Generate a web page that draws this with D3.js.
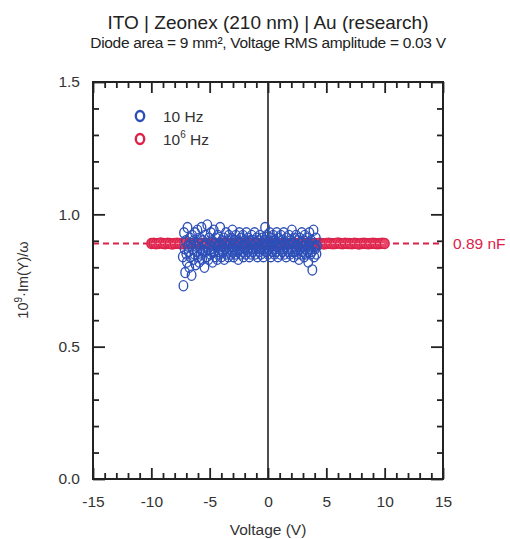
<!DOCTYPE html>
<html><head><meta charset="utf-8">
<script src="https://cdn.jsdelivr.net/npm/d3@7"></script>
<style>body{margin:0;background:#fff}svg{display:block}text{font-family:"Liberation Sans",Arial,sans-serif}</style>
</head><body>
<script>
// ---- data ----
const xMajorTicks = [-15,-10,-5,0,5,10,15];
const xMinorTicks = [-14,-13,-12,-11,-9,-8,-7,-6,-4,-3,-2,-1,1,2,3,4,6,7,8,9,11,12,13,14];
const yMajorTicks = [0,0.5,1.0,1.5];
const yMinorTicks = [0.1,0.2,0.3,0.4,0.6,0.7,0.8,0.9,1.1,1.2,1.3,1.4];
const fitValue = 0.89;
const fitLabel = "0.89 nF";
const seriesNames = ["10 Hz","10⁶ Hz"];

// 10 Hz series (voltage V, capacitance 10^9 Im(Y)/ω)
const lowV = [-7.3,-7.25,-7.2,-7.15,-7.1,-7.05,-7,-6.95,-6.9,-6.85,
-6.8,-6.75,-6.7,-6.65,-6.6,-6.55,-6.5,-6.45,-6.4,-6.35,
-6.3,-6.25,-6.2,-6.15,-6.1,-6.05,-6,-5.95,-5.9,-5.85,
-5.8,-5.75,-5.7,-5.65,-5.6,-5.55,-5.5,-5.45,-5.4,-5.35,
-5.3,-5.25,-5.2,-5.15,-5.1,-5.05,-5,-4.95,-4.9,-4.85,
-4.8,-4.75,-4.7,-4.65,-4.6,-4.55,-4.5,-4.45,-4.4,-4.35,
-4.3,-4.25,-4.2,-4.15,-4.1,-4.05,-4,-3.95,-3.9,-3.85,
-3.8,-3.75,-3.7,-3.65,-3.6,-3.55,-3.5,-3.45,-3.4,-3.35,
-3.3,-3.25,-3.2,-3.15,-3.1,-3.05,-3,-2.95,-2.9,-2.85,
-2.8,-2.75,-2.7,-2.65,-2.6,-2.55,-2.5,-2.45,-2.4,-2.35,
-2.3,-2.25,-2.2,-2.15,-2.1,-2.05,-2,-1.95,-1.9,-1.85,
-1.8,-1.75,-1.7,-1.65,-1.6,-1.55,-1.5,-1.45,-1.4,-1.35,
-1.3,-1.25,-1.2,-1.15,-1.1,-1.05,-1,-0.95,-0.9,-0.85,
-0.8,-0.75,-0.7,-0.65,-0.6,-0.55,-0.5,-0.45,-0.4,-0.35,
-0.3,-0.25,-0.2,-0.15,-0.1,-0.05,0,0.05,0.1,0.15,
0.2,0.25,0.3,0.35,0.4,0.45,0.5,0.55,0.6,0.65,
0.7,0.75,0.8,0.85,0.9,0.95,1,1.05,1.1,1.15,
1.2,1.25,1.3,1.35,1.4,1.45,1.5,1.55,1.6,1.65,
1.7,1.75,1.8,1.85,1.9,1.95,2,2.05,2.1,2.15,
2.2,2.25,2.3,2.35,2.4,2.45,2.5,2.55,2.6,2.65,
2.7,2.75,2.8,2.85,2.9,2.95,3,3.05,3.1,3.15,
3.2,3.25,3.3,3.35,3.4,3.45,3.5,3.55,3.6,3.65,
3.7,3.75,3.8,3.85,3.9,3.95,4,4.05,4.1,4.15,4.2];
const lowC = [0.84,0.73,0.93,0.87,0.78,0.90,0.85,0.82,0.95,0.88,
0.86,0.80,0.91,0.84,0.89,0.77,0.92,0.87,0.83,0.90,
0.85,0.93,0.81,0.88,0.86,0.94,0.84,0.89,0.82,0.91,
0.87,0.85,0.95,0.83,0.90,0.86,0.88,0.80,0.92,0.86,
0.89,0.84,0.96,0.87,0.83,0.91,0.88,0.85,0.93,0.86,
0.90,0.82,0.87,0.94,0.86,0.89,0.84,0.91,0.88,0.83,
0.92,0.86,0.89,0.85,0.95,0.87,0.84,0.90,0.88,0.86,
0.91,0.83,0.89,0.87,0.93,0.85,0.88,0.90,0.84,0.92,
0.87,0.89,0.85,0.91,0.86,0.94,0.88,0.84,0.90,0.87,
0.85,0.92,0.88,0.86,0.90,0.83,0.89,0.93,0.87,0.85,
0.91,0.88,0.86,0.92,0.84,0.89,0.87,0.90,0.85,0.93,
0.88,0.86,0.91,0.87,0.84,0.90,0.89,0.85,0.92,0.87,
0.86,0.90,0.88,0.93,0.85,0.89,0.87,0.91,0.84,0.88,
0.90,0.86,0.92,0.87,0.85,0.89,0.91,0.88,0.84,0.90,
0.87,0.95,0.89,0.86,0.92,0.88,0.85,0.90,0.87,0.93,
0.88,0.84,0.91,0.86,0.89,0.92,0.87,0.85,0.90,0.88,
0.86,0.93,0.88,0.84,0.91,0.87,0.89,0.85,0.92,0.88,
0.90,0.86,0.87,0.93,0.85,0.89,0.88,0.84,0.91,0.87,
0.89,0.86,0.92,0.88,0.85,0.90,0.87,0.94,0.86,0.89,
0.84,0.91,0.88,0.86,0.92,0.87,0.85,0.90,0.88,0.83,
0.91,0.87,0.89,0.85,0.93,0.86,0.88,0.90,0.84,0.92,
0.87,0.85,0.89,0.91,0.86,0.82,0.88,0.93,0.87,0.85,
0.90,0.86,0.79,0.89,0.94,0.84,0.88,0.87,0.91,0.85,0.88];

// 10^6 Hz series
const highV = [-10,-9.8,-9.6,-9.4,-9.2,-9,-8.8,-8.6,-8.4,-8.2,
-8,-7.8,-7.6,-7.4,-7.2,-7,-6.8,-6.6,-6.4,-6.2,
-6,-5.8,-5.6,-5.4,-5.2,-5,-4.8,-4.6,-4.4,-4.2,
-4,-3.8,-3.6,-3.4,-3.2,-3,-2.8,-2.6,-2.4,-2.2,
-2,-1.8,-1.6,-1.4,-1.2,-1,-0.8,-0.6,-0.4,-0.2,
0,0.2,0.4,0.6,0.8,1,1.2,1.4,1.6,1.8,
2,2.2,2.4,2.6,2.8,3,3.2,3.4,3.6,3.8,
4,4.2,4.4,4.6,4.8,5,5.2,5.4,5.6,5.8,
6,6.2,6.4,6.6,6.8,7,7.2,7.4,7.6,7.8,
8,8.2,8.4,8.6,8.8,9,9.2,9.4,9.6,9.8,10];
const highC = [0.890,0.891,0.889,0.890,0.892,0.890,0.889,0.891,0.890,0.888,
0.890,0.891,0.890,0.889,0.890,0.892,0.890,0.889,0.890,0.891,
0.890,0.888,0.890,0.891,0.890,0.889,0.890,0.892,0.890,0.889,
0.891,0.890,0.889,0.890,0.891,0.890,0.888,0.890,0.891,0.890,
0.889,0.890,0.892,0.890,0.889,0.891,0.890,0.890,0.889,0.891,
0.890,0.889,0.890,0.891,0.890,0.888,0.890,0.891,0.890,0.889,
0.890,0.892,0.890,0.889,0.890,0.891,0.890,0.889,0.891,0.890,
0.890,0.889,0.891,0.890,0.888,0.890,0.891,0.890,0.889,0.890,
0.892,0.890,0.889,0.891,0.890,0.890,0.889,0.891,0.890,0.888,
0.890,0.891,0.890,0.889,0.890,0.891,0.890,0.889,0.890,0.891,0.890];

// ---- chart ----
const W = 510, H = 539;
const blue = "#2d4fb8", red = "#dc2149", ink = "#222";
const svg = d3.select("body").append("svg").attr("width", W).attr("height", H);
const x = d3.scaleLinear().domain([-15,15]).range([93,443]);
const y = d3.scaleLinear().domain([0,1.5]).range([479,82]);

svg.append("text").attr("x",268).attr("y",29).attr("text-anchor","middle")
  .attr("font-size",19).attr("fill",ink).text("ITO | Zeonex (210 nm) | Au (research)");
svg.append("text").attr("x",268).attr("y",48).attr("text-anchor","middle")
  .attr("font-size",15.5).attr("fill",ink).attr("letter-spacing",-0.3)
  .text("Diode area = 9 mm², Voltage RMS amplitude = 0.03 V");

// data
svg.append("clipPath").attr("id","c").append("rect")
  .attr("x",x(-15)).attr("y",y(1.5)).attr("width",x(15)-x(-15)).attr("height",y(0)-y(1.5));
const plot = svg.append("g").attr("clip-path","url(#c)");

plot.append("line").attr("x1",x(0)).attr("x2",x(0)).attr("y1",y(0)).attr("y2",y(1.5))
  .attr("stroke",ink).attr("stroke-width",1.6);

plot.append("line").attr("x1",x(-15)).attr("x2",x(15)).attr("y1",y(fitValue)).attr("y2",y(fitValue))
  .attr("stroke",red).attr("stroke-width",2).attr("stroke-dasharray","6,4");

const high = highV.map((v,i)=>({v, c: highC[i]}));
plot.append("g").selectAll("ellipse").data(high).join("ellipse")
  .attr("cx",d=>x(d.v)).attr("cy",d=>y(d.c)).attr("rx",4.5).attr("ry",5)
  .attr("fill","#e9466a").attr("stroke",red).attr("stroke-width",1.4);
plot.append("line").attr("x1",x(highV[0])).attr("x2",x(highV[highV.length-1]))
  .attr("y1",y(fitValue)).attr("y2",y(fitValue))
  .attr("stroke","#f7b5c4").attr("stroke-width",1).attr("stroke-dasharray","3,2").attr("opacity",0.8);

const low = lowV.map((v,i)=>({v, c: lowC[i]}));
plot.append("g").selectAll("ellipse").data(low).join("ellipse")
  .attr("cx",d=>x(d.v)).attr("cy",d=>y(d.c)).attr("rx",4.3).attr("ry",5.1)
  .attr("fill","none").attr("stroke",blue).attr("stroke-width",1.35);

// axes
function styleAxis(g){ g.select(".domain").remove(); g.selectAll("line").attr("stroke",ink).attr("stroke-width",1.8);
  g.selectAll("text").attr("font-size",15.5).attr("fill","#333").attr("font-family","Liberation Sans, Arial, sans-serif"); }
const fmtY = d3.format(".1f");
const fmtX = d => String(d);
svg.append("g").attr("transform",`translate(0,${y(0)})`)
  .call(d3.axisBottom(x).tickValues(xMajorTicks).tickSizeInner(-11).tickSizeOuter(0).tickPadding(17).tickFormat(fmtX)).call(styleAxis);
svg.append("g").attr("transform",`translate(0,${y(0)})`)
  .call(d3.axisBottom(x).tickValues(xMinorTicks).tickSizeInner(-6).tickSizeOuter(0).tickFormat("")).call(styleAxis);
svg.append("g").attr("transform",`translate(0,${y(1.5)})`)
  .call(d3.axisTop(x).tickValues(xMajorTicks).tickSizeInner(-11).tickSizeOuter(0).tickFormat("")).call(styleAxis);
svg.append("g").attr("transform",`translate(0,${y(1.5)})`)
  .call(d3.axisTop(x).tickValues(xMinorTicks).tickSizeInner(-6).tickSizeOuter(0).tickFormat("")).call(styleAxis);
svg.append("g").attr("transform",`translate(${x(-15)},0)`)
  .call(d3.axisLeft(y).tickValues(yMajorTicks).tickSizeInner(-12).tickSizeOuter(0).tickPadding(13).tickFormat(fmtY)).call(styleAxis);
svg.append("g").attr("transform",`translate(${x(-15)},0)`)
  .call(d3.axisLeft(y).tickValues(yMinorTicks).tickSizeInner(-6).tickSizeOuter(0).tickFormat("")).call(styleAxis);
svg.append("g").attr("transform",`translate(${x(15)},0)`)
  .call(d3.axisRight(y).tickValues(yMajorTicks).tickSizeInner(-12).tickSizeOuter(0).tickFormat("")).call(styleAxis);
svg.append("g").attr("transform",`translate(${x(15)},0)`)
  .call(d3.axisRight(y).tickValues(yMinorTicks).tickSizeInner(-6).tickSizeOuter(0).tickFormat("")).call(styleAxis);

svg.append("rect").attr("x",x(-15)).attr("y",y(1.5)).attr("width",x(15)-x(-15)).attr("height",y(0)-y(1.5))
  .attr("fill","none").attr("stroke",ink).attr("stroke-width",2);

// labels
svg.append("text").attr("x",268).attr("y",535).attr("text-anchor","middle")
  .attr("font-size",15.5).attr("fill","#333").text("Voltage (V)");
const yl = svg.append("text").attr("transform","translate(28,280) rotate(-90)").attr("text-anchor","middle")
  .attr("font-size",14.5).attr("fill","#333");
yl.append("tspan").text("10");
yl.append("tspan").attr("dy",-6).attr("font-size",10).text("9");
yl.append("tspan").attr("dy",6).text("·Im(Y)/ω");

svg.append("text").attr("x",x(15)+10).attr("y",y(fitValue)+5.5)
  .attr("font-size",15.5).attr("fill",red).text(fitLabel);

// legend
const leg = [{name:"10 Hz", col: blue}, {name:"10", sup:"6", rest:" Hz", col: red}];
leg.forEach((d,i)=>{
  const cy = 116 + i*23;
  svg.append("ellipse").attr("cx",140).attr("cy",cy).attr("rx",4.2).attr("ry",5)
    .attr("fill","none").attr("stroke",d.col).attr("stroke-width",2.4);
  const t = svg.append("text").attr("x",163).attr("y",cy+5.5).attr("font-size",15.5).attr("fill","#333");
  if(d.sup){ t.append("tspan").text(d.name); t.append("tspan").attr("dy",-7).attr("font-size",10).text(d.sup);
             t.append("tspan").attr("dy",7).text(d.rest); }
  else t.text(d.name);
});
</script>
</body></html>
